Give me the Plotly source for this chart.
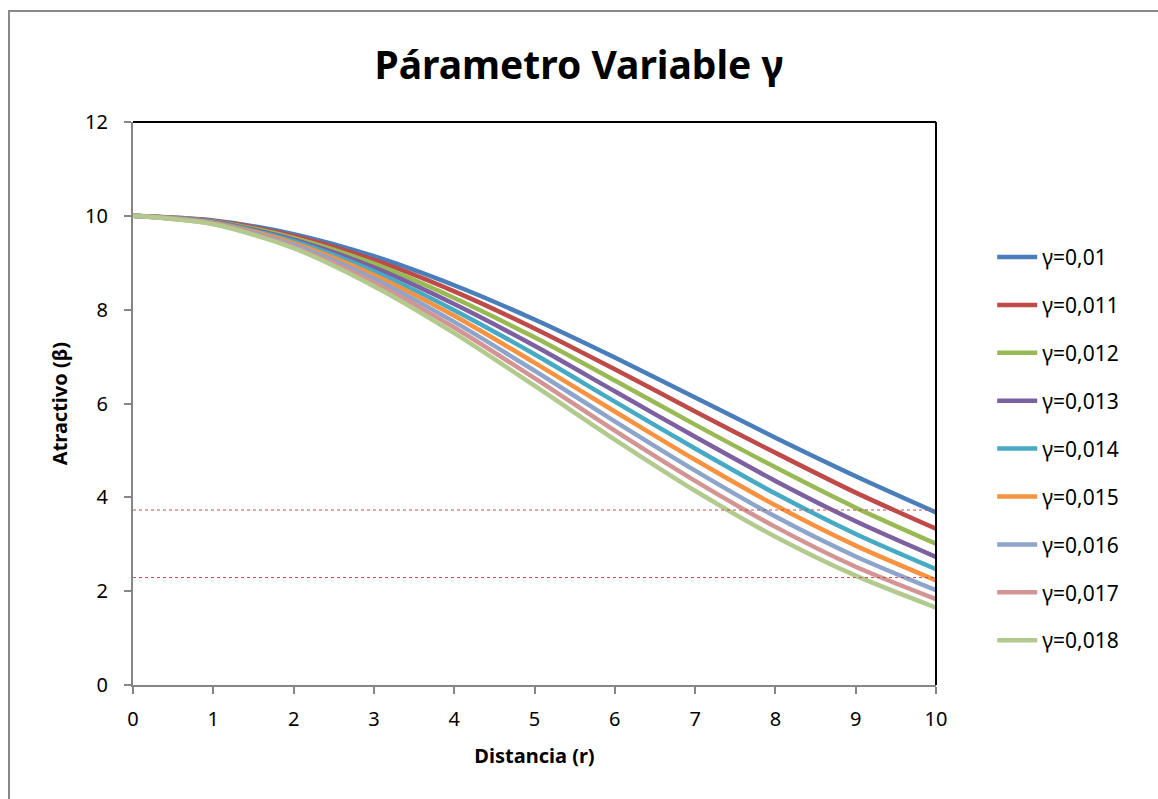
import plotly.graph_objects as go

r = [0, 1, 2, 3, 4, 5, 6, 7, 8, 9, 10]
labels = ["γ=0,01", "γ=0,011", "γ=0,012", "γ=0,013", "γ=0,014",
          "γ=0,015", "γ=0,016", "γ=0,017", "γ=0,018"]
g010 = [10, 9.90, 9.61, 9.14, 8.52, 7.79, 6.98, 6.13, 5.27, 4.45, 3.68]
g011 = [10, 9.89, 9.57, 9.06, 8.39, 7.60, 6.73, 5.83, 4.95, 4.10, 3.33]
g012 = [10, 9.88, 9.53, 8.98, 8.25, 7.41, 6.49, 5.55, 4.64, 3.78, 3.01]
g013 = [10, 9.87, 9.49, 8.90, 8.12, 7.23, 6.26, 5.29, 4.35, 3.49, 2.73]
g014 = [10, 9.86, 9.46, 8.82, 7.99, 7.05, 6.04, 5.04, 4.08, 3.22, 2.47]
g015 = [10, 9.85, 9.42, 8.74, 7.87, 6.87, 5.83, 4.80, 3.83, 2.97, 2.23]
g016 = [10, 9.84, 9.38, 8.66, 7.74, 6.70, 5.62, 4.57, 3.59, 2.74, 2.02]
g017 = [10, 9.83, 9.34, 8.58, 7.62, 6.54, 5.42, 4.35, 3.37, 2.52, 1.83]
g018 = [10, 9.82, 9.31, 8.50, 7.50, 6.38, 5.23, 4.14, 3.16, 2.33, 1.65]
series = [g010, g011, g012, g013, g014, g015, g016, g017, g018]
colors = ["#4A7EBB", "#BE4B48", "#98B954", "#7D60A0", "#46AAC5",
          "#F69240", "#8EA5CB", "#D39494", "#B3CA8E"]

ref_levels = [3.73, 2.29]
ref_x = [0, 10]

FONT = "Noto Sans"

fig = go.Figure()
for i, (lab, ys, c) in enumerate(zip(labels, series, colors)):
    fig.add_trace(go.Scatter(x=r, y=ys, mode="lines", name=lab,
                             line=dict(color=c, width=4.5, shape="spline", smoothing=0.8),
                             legendgroup=f"g{i}"))

for lv in ref_levels:
    fig.add_trace(go.Scatter(x=ref_x, y=[lv, lv], mode="lines", showlegend=False,
                             line=dict(color="#C0504D", width=1, dash="dot"),
                             hoverinfo="skip"))

axis_common = dict(showgrid=False, zeroline=False, showline=True,
                   linecolor="#868686", linewidth=2, ticks="outside",
                   tickcolor="#868686", ticklen=7, tickwidth=2,
                   tickfont=dict(family=FONT, size=20, color="#000"))

fig.update_xaxes(range=[0, 10], dtick=1, tick0=0, **axis_common,
                 ticklabelstandoff=8,
                 title=dict(text="<b>Distancia (r)</b>",
                            font=dict(family=FONT, size=20, color="#000"),
                            standoff=18))
fig.update_yaxes(range=[0, 12], dtick=2, tick0=0, **axis_common,
                 ticklabelstandoff=12,
                 title=dict(text="<b>Atractivo (β)</b>",
                            font=dict(family=FONT, size=20, color="#000"),
                            standoff=12))

# top and right plot-area frame (black)
fig.add_shape(type="line", xref="x domain", yref="y domain", x0=0, x1=1, y0=1, y1=1,
              line=dict(color="#000", width=2))
fig.add_shape(type="line", xref="x domain", yref="y domain", x0=1, x1=1, y0=0, y1=1,
              line=dict(color="#000", width=2))
# outer chart-area border
fig.add_shape(type="rect", xref="paper", yref="paper", x0=-0.1544, x1=1.3, y0=-0.3, y1=1.197,
              line=dict(color="#888888", width=2), layer="below")

fig.update_layout(
    width=1158, height=799,
    margin=dict(l=133, r=222, t=122, b=114),
    paper_bgcolor="white", plot_bgcolor="white",
    title=dict(text="<b>Párametro Variable γ</b>", x=0.5, xanchor="center",
               y=0.918, yanchor="middle",
               font=dict(family=FONT, size=39, color="#000")),
    legend=dict(x=1.07, y=0.796, xanchor="left", yanchor="top",
                font=dict(family=FONT, size=21, color="#000"),
                tracegroupgap=17.6, itemwidth=40),
    showlegend=True,
)

fig.write_html("out.html")
